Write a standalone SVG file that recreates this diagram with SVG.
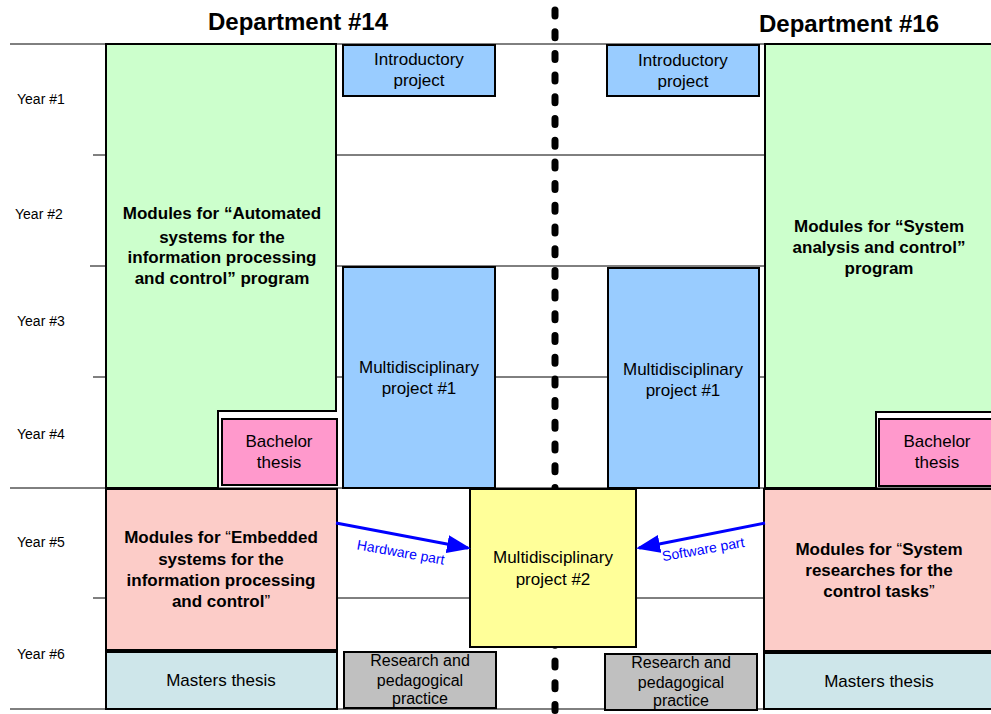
<svg xmlns="http://www.w3.org/2000/svg" width="991" height="714" viewBox="0 0 991 714">
<style>
text{font-family:"Liberation Sans",Arial,sans-serif;fill:#000;text-anchor:middle}
.yr{font-size:14px;text-anchor:start}
.t{font-size:17px}
.r{font-size:16px}
.b{font-size:17px;font-weight:bold}
.q{font-weight:normal}
.h{font-size:24px;font-weight:bold}
.box{stroke:#000;stroke-width:2}
.grid{stroke:#000;stroke-width:1}
.lbl{font-size:14px;fill:#0000FF}
</style>
<defs>
<marker id="ah" markerWidth="8" markerHeight="6" refX="7" refY="3" orient="auto" markerUnits="strokeWidth">
<path d="M0,0 L8,3 L0,6 Z" fill="#0000FF"/>
</marker>
</defs>
<rect width="991" height="714" fill="#fff"/>
<g id="grid">
<line class="grid" x1="10" y1="44" x2="991" y2="44"/>
<line class="grid" x1="93" y1="155" x2="991" y2="155"/>
<line class="grid" x1="90" y1="266" x2="991" y2="266"/>
<line class="grid" x1="93" y1="377" x2="991" y2="377"/>
<line class="grid" x1="10" y1="488" x2="991" y2="488"/>
<line class="grid" x1="93" y1="598" x2="991" y2="598"/>
<line class="grid" x1="10" y1="709" x2="991" y2="709"/>
<line x1="555" y1="10" x2="555" y2="714" stroke="#000" stroke-width="7" stroke-linecap="round" stroke-dasharray="6 15.7"/>
</g>
<g id="headers">
<text class="h" x="298" y="30">Department #14</text>
<text class="h" x="849" y="32">Department #16</text>
<text class="yr" x="17" y="104">Year #1</text>
<text class="yr" x="15" y="219">Year #2</text>
<text class="yr" x="17" y="326">Year #3</text>
<text class="yr" x="17" y="439">Year #4</text>
<text class="yr" x="17" y="547">Year #5</text>
<text class="yr" x="17" y="659">Year #6</text>
</g>
<g id="green-left">
<path class="box" fill="#CCFFCC" d="M106,44 H336 V411 H218 V488 H106 Z"/>
<text class="b" x="222" y="219">Modules for “Automated</text>
<text class="b" x="222" y="243">systems for the</text>
<text class="b" x="222" y="263">information processing</text>
<text class="b" x="222" y="284">and control” program</text>
</g>
<g id="bachelor-left">
<rect class="box" fill="#FF99CC" x="222" y="419" width="115" height="66"/>
<text class="t" x="279" y="447">Bachelor</text>
<text class="t" x="279" y="468">thesis</text>
</g>
<g id="intro-left">
<rect class="box" fill="#99CCFF" x="343" y="45" width="152" height="51"/>
<text class="t" x="419" y="65">Introductory</text>
<text class="t" x="419" y="86">project</text>
</g>
<g id="multi1-left">
<rect class="box" fill="#99CCFF" x="343" y="267" width="152" height="221"/>
<text class="t" x="419" y="373">Multidisciplinary</text>
<text class="t" x="419" y="394">project #1</text>
</g>
<g id="intro-right">
<rect class="box" fill="#99CCFF" x="607" y="45" width="152" height="51"/>
<text class="t" x="683" y="66">Introductory</text>
<text class="t" x="683" y="87">project</text>
</g>
<g id="multi1-right">
<rect class="box" fill="#99CCFF" x="608" y="268" width="151" height="220"/>
<text class="t" x="683" y="375">Multidisciplinary</text>
<text class="t" x="683" y="396">project #1</text>
</g>
<g id="green-right">
<path class="box" fill="#CCFFCC" d="M765,44 H993 V412 H876 V488 H765 Z"/>
<text class="b" x="879" y="232">Modules for “System</text>
<text class="b" x="879" y="253">analysis and control”</text>
<text class="b" x="879" y="274">program</text>
</g>
<g id="bachelor-right">
<rect class="box" fill="#FF99CC" x="879" y="419" width="114" height="67"/>
<text class="t" x="937" y="447">Bachelor</text>
<text class="t" x="937" y="468">thesis</text>
</g>
<g id="embedded-left">
<rect class="box" fill="#FCCCC8" x="106" y="489" width="231" height="161"/>
<text class="b" x="221" y="543">Modules for <tspan class="q">“</tspan>Embedded</text>
<text class="b" x="221" y="565">systems for the</text>
<text class="b" x="221" y="586">information processing</text>
<text class="b" x="221" y="607">and control<tspan class="q">”</tspan></text>
</g>
<g id="multi2">
<rect class="box" fill="#FFFF99" x="470" y="489" width="166" height="158"/>
<text class="t" x="553" y="563">Multidisciplinary</text>
<text class="t" x="553" y="585">project #2</text>
</g>
<g id="system-right">
<rect class="box" fill="#FCCCC8" x="764" y="489" width="229" height="162"/>
<text class="b" x="879" y="555">Modules for <tspan class="q">“</tspan>System</text>
<text class="b" x="879" y="576">researches for the</text>
<text class="b" x="879" y="597">control tasks<tspan class="q">”</tspan></text>
</g>
<g id="masters-left">
<rect class="box" fill="#CEE6EA" x="106" y="652" width="231" height="57"/>
<text class="t" x="221" y="686">Masters thesis</text>
</g>
<g id="research-left">
<rect class="box" fill="#C0C0C0" x="344" y="652" width="152" height="56"/>
<text class="r" x="420" y="666">Research and</text>
<text class="r" x="420" y="686">pedagogical</text>
<text class="r" x="420" y="704">practice</text>
</g>
<g id="research-right">
<rect class="box" fill="#C0C0C0" x="605" y="654" width="152" height="56"/>
<text class="r" x="681" y="668">Research and</text>
<text class="r" x="681" y="688">pedagogical</text>
<text class="r" x="681" y="706">practice</text>
</g>
<g id="masters-right">
<rect class="box" fill="#CEE6EA" x="764" y="653" width="229" height="56"/>
<text class="t" x="879" y="687">Masters thesis</text>
</g>
<g id="connectors">
<line x1="336" y1="523" x2="468" y2="548" stroke="#0000FF" stroke-width="3" marker-end="url(#ah)"/>
<line x1="765" y1="523" x2="639" y2="548" stroke="#0000FF" stroke-width="3" marker-end="url(#ah)"/>
<text class="lbl" transform="translate(400,557) rotate(10)">Hardware part</text>
<text class="lbl" transform="translate(704,554) rotate(-10)">Software part</text>
</g>
</svg>
